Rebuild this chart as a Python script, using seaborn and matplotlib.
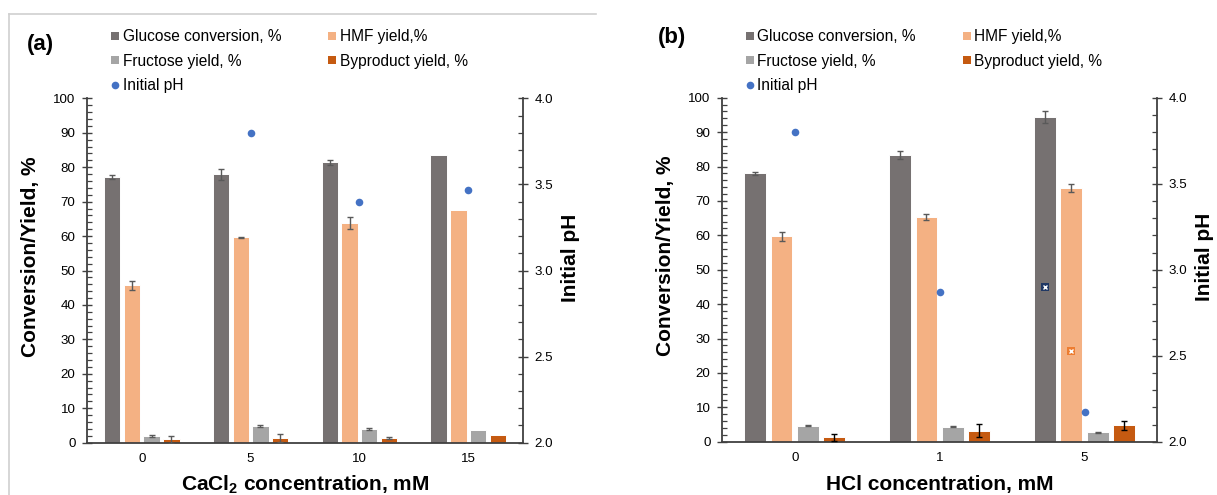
import numpy as np
import pandas as pd
import matplotlib
matplotlib.use("Agg")
import matplotlib.pyplot as plt
from matplotlib.lines import Line2D
from matplotlib.ticker import MultipleLocator, FormatStrFormatter
import seaborn as sns

# ---- data ---------------------------------------------------------------
series_names = ["Glucose conversion, %", "HMF yield,%",
                "Fructose yield, %", "Byproduct yield, %"]
ph_name = "Initial pH"

cacl2_conc = ["0", "5", "10", "15"]
cacl2_glucose = [77.2, 77.9, 81.4, 83.5]
cacl2_glucose_err = [0.5, 1.6, 0.8, 0.0]
cacl2_hmf = [45.7, 59.6, 63.8, 67.7]
cacl2_hmf_err = [1.3, 0.2, 1.8, 0.0]
cacl2_fructose = [1.95, 4.85, 4.0, 3.7]
cacl2_fructose_err = [0.15, 0.2, 0.25, 0.0]
cacl2_byproduct = [1.0, 1.3, 1.45, 2.1]
cacl2_byproduct_err = [1.0, 1.15, 0.25, 0.0]
cacl2_ph = [np.nan, 3.80, 3.40, 3.47]

hcl_conc = ["0", "1", "5"]
hcl_glucose = [78.0, 83.4, 94.4]
hcl_glucose_err = [0.4, 1.2, 1.7]
hcl_hmf = [59.7, 65.4, 73.8]
hcl_hmf_err = [1.3, 0.9, 1.2]
hcl_fructose = [4.65, 4.35, 2.7]
hcl_fructose_err = [0.2, 0.2, 0.2]
hcl_byproduct = [1.3, 3.2, 4.8]
hcl_byproduct_err = [1.0, 1.9, 1.35]
hcl_ph = [3.80, 2.87, 2.17]
# extra pH markers sitting on the 5 mM glucose and HMF bars
hcl_marker_series = ["Glucose conversion, %", "HMF yield,%"]
hcl_marker_conc = ["5", "5"]
hcl_marker_ph = [2.90, 2.53]
hcl_marker_colors = ["#203864", "#ED7D31"]

# ---- style --------------------------------------------------------------
plt.rcParams["font.family"] = ["Liberation Sans", "DejaVu Sans"]
plt.rcParams["mathtext.fontset"] = "custom"
plt.rcParams["mathtext.rm"] = "Liberation Sans"
plt.rcParams["mathtext.bf"] = "Liberation Sans:bold"

palette = {
    "Glucose conversion, %": "#767171",
    "HMF yield,%": "#F4B183",
    "Fructose yield, %": "#A5A5A5",
    "Byproduct yield, %": "#C55A11",
}
ph_color = "#4472C4"
axis_color = "#404040"
FS_TICK = 9.6
FS_LEG = 11.2
FS_LAB = 15

W, H = 1217, 495
fig = plt.figure(figsize=(W / 100, H / 100), dpi=100)


def px_box(x0, y0, x1, y1):
    return [x0 / W, 1 - y1 / H, (x1 - x0) / W, (y1 - y0) / H]


def draw_panel(ax, conc, values, errs, ph, xlabel, err_colors):
    rows = []
    for name in series_names:
        for c, v in zip(conc, values[name]):
            rows.append({"conc": c, "series": name, "value": v})
    df = pd.DataFrame(rows)

    sns.barplot(data=df, x="conc", y="value", hue="series",
                order=conc, hue_order=series_names, palette=palette,
                saturation=1, width=0.728, gap=0.176, errorbar=None,
                edgecolor="white", linewidth=0.7, legend=False, ax=ax)

    # error bars on top of each bar
    for container, name in zip(ax.containers, series_names):
        for bar, val, err in zip(container, values[name], errs[name]):
            if err > 0:
                xc = bar.get_x() + bar.get_width() / 2
                ax.errorbar(xc, val, yerr=err, fmt="none",
                            ecolor=err_colors[name], elinewidth=1.0,
                            capsize=2.4, capthick=1.0, zorder=5)

    ax.set_ylim(0, 100)
    ax.yaxis.set_major_locator(MultipleLocator(10))
    ax.yaxis.set_minor_locator(MultipleLocator(2))
    ax.tick_params(axis="y", which="major", direction="inout", length=7,
                   width=1.0, color=axis_color, labelsize=FS_TICK, pad=5)
    ax.tick_params(axis="y", which="minor", direction="in", length=3.5,
                   width=0.9, color=axis_color)
    ax.tick_params(axis="x", length=0, labelsize=FS_TICK, pad=7.5)
    for s in ("top", "right"):
        ax.spines[s].set_visible(False)
    for s in ("left", "bottom"):
        ax.spines[s].set_color(axis_color)
        ax.spines[s].set_linewidth(1.3)

    ax.set_xlabel(xlabel, fontsize=FS_LAB, fontweight="bold")
    ax.set_ylabel("Conversion/Yield, %", fontsize=FS_LAB, fontweight="bold")
    ax.xaxis.label.set_verticalalignment("center")
    ax.yaxis.label.set_verticalalignment("center")
    ax.xaxis.set_label_coords(0.5, -0.123)
    ax.yaxis.set_label_coords(-0.1316, 0.540)

    ax2 = ax.twinx()
    positions = np.arange(len(conc))
    sns.scatterplot(x=positions, y=ph, ax=ax2, color=ph_color, s=30,
                    linewidth=0, legend=False, zorder=6)
    ax2.set_ylim(2.0, 4.0)
    ax2.yaxis.set_major_locator(MultipleLocator(0.5))
    ax2.yaxis.set_minor_locator(MultipleLocator(0.1))
    ax2.yaxis.set_major_formatter(FormatStrFormatter("%.1f"))
    ax2.tick_params(axis="y", which="major", direction="inout", length=7,
                    width=1.0, color=axis_color, labelsize=FS_TICK, pad=5)
    ax2.tick_params(axis="y", which="minor", direction="in", length=3.5,
                    width=0.9, color=axis_color)
    for s in ("top", "bottom", "left"):
        ax2.spines[s].set_visible(False)
    ax2.spines["right"].set_color(axis_color)
    ax2.spines["right"].set_linewidth(1.3)
    ax2.set_ylabel(ph_name, fontsize=FS_LAB, fontweight="bold", rotation=90)
    ax2.yaxis.label.set_verticalalignment("center")
    ax2.yaxis.set_label_coords(1.109, 0.537)
    ax.set_xlim(-0.5, len(conc) - 0.5)
    ax2.set_xlim(-0.5, len(conc) - 0.5)

    handles = [
        Line2D([], [], ls="none", marker="s", ms=6.2, mew=0,
               color=palette[series_names[0]], label=series_names[0]),
        Line2D([], [], ls="none", marker="s", ms=6.2, mew=0,
               color=palette[series_names[2]], label=series_names[2]),
        Line2D([], [], ls="none", marker="o", ms=5.5, mew=0,
               color=ph_color, label=ph_name),
        Line2D([], [], ls="none", marker="s", ms=6.2, mew=0,
               color=palette[series_names[1]], label=series_names[1]),
        Line2D([], [], ls="none", marker="s", ms=6.2, mew=0,
               color=palette[series_names[3]], label=series_names[3]),
    ]
    return ax2, handles


err_gray = {n: "#595959" for n in series_names}
err_b = dict(err_gray)
err_b["Byproduct yield, %"] = "#000000"

# ---- panel (a) ----------------------------------------------------------
ax_a = fig.add_axes(px_box(87.3, 98.3, 522.7, 442.7))
vals_a = dict(zip(series_names, [cacl2_glucose, cacl2_hmf,
                                 cacl2_fructose, cacl2_byproduct]))
errs_a = dict(zip(series_names, [cacl2_glucose_err, cacl2_hmf_err,
                                 cacl2_fructose_err, cacl2_byproduct_err]))
ax2_a, handles = draw_panel(ax_a, cacl2_conc, vals_a, errs_a, cacl2_ph,
                            r"CaCl$_{\mathbf{2}}$ concentration, mM", err_gray)

# ---- panel (b) ----------------------------------------------------------
ax_b = fig.add_axes(px_box(722.3, 97.7, 1157.0, 441.7))
vals_b = dict(zip(series_names, [hcl_glucose, hcl_hmf,
                                 hcl_fructose, hcl_byproduct]))
errs_b = dict(zip(series_names, [hcl_glucose_err, hcl_hmf_err,
                                 hcl_fructose_err, hcl_byproduct_err]))
ax2_b, _ = draw_panel(ax_b, hcl_conc, vals_b, errs_b, hcl_ph,
                      "HCl concentration, mM", err_b)

# crossed square markers placed at the centre of their bars
for name, c, ph, col in zip(hcl_marker_series, hcl_marker_conc,
                            hcl_marker_ph, hcl_marker_colors):
    bar = ax_b.containers[series_names.index(name)][hcl_conc.index(c)]
    xc = bar.get_x() + bar.get_width() / 2
    ax2_b.plot(xc, ph, ls="none", marker="s", ms=5.2, mew=0, color=col,
               zorder=7)
    ax2_b.plot(xc, ph, ls="none", marker="x", ms=3.4, mew=1.0,
               color="white", zorder=8)

# ---- legends ------------------------------------------------------------
leg_kw = dict(loc="upper left", ncol=2, frameon=False, fontsize=FS_LEG,
              handlelength=0.55, handletextpad=0.2, columnspacing=3.0,
              labelspacing=0.62, borderpad=0, borderaxespad=0,
              bbox_transform=fig.transFigure)
ax2_a.legend(handles=handles, bbox_to_anchor=(111 / W, 1 - 29 / H), **leg_kw)
ax2_b.legend(handles=handles, bbox_to_anchor=(745.7 / W, 1 - 29 / H), **leg_kw)

# ---- panel letters and frame --------------------------------------------
fig.text(26.7 / W, 1 - 44.5 / H, "(a)", fontsize=FS_LAB + 1,
         fontweight="bold", ha="left", va="center")
fig.text(658.3 / W, 1 - 37.5 / H, "(b)", fontsize=FS_LAB + 1,
         fontweight="bold", ha="left", va="center")

frame_kw = dict(color="#d0d0d0", lw=1.2, transform=fig.transFigure)
fig.add_artist(Line2D([9.3 / W, 595.7 / W], [1 - 13.7 / H, 1 - 13.7 / H],
                      **frame_kw))
fig.add_artist(Line2D([9.3 / W, 9.3 / W], [1 - 13.7 / H, 0], **frame_kw))

fig.savefig("out.png", dpi=100, facecolor="white")
